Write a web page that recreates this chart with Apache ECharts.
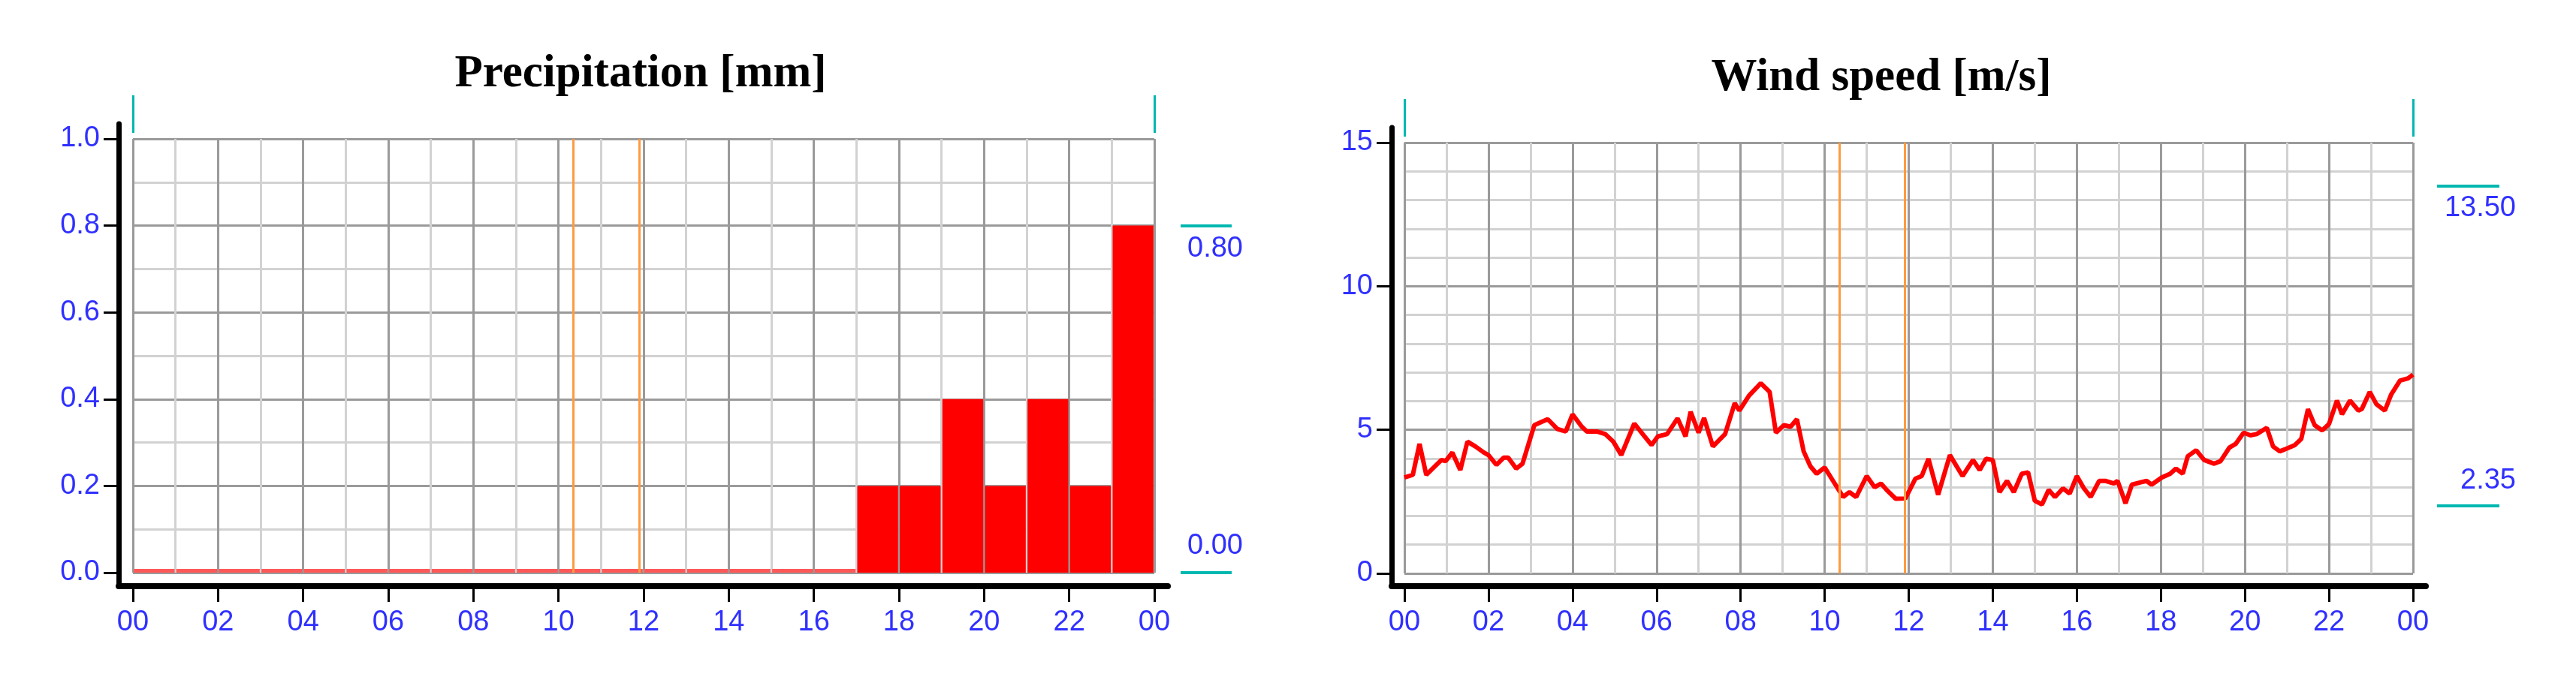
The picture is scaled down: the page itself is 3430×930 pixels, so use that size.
<!DOCTYPE html>
<html>
<head>
<meta charset="utf-8">
<title>Precipitation and wind speed</title>
<script src="https://cdn.jsdelivr.net/npm/echarts@6/dist/echarts.min.js"></script>
<style>
  html, body { margin: 0; padding: 0; background: #fff; }
  #chart { width: 3430px; height: 930px; }
</style>
</head>
<body>
<div id="chart"></div>
<script>
// hourly precipitation, hour start 00..23
const precipHour = [0, 1, 2, 3, 4, 5, 6, 7, 8, 9, 10, 11, 12, 13, 14, 15, 16, 17, 18, 19, 20, 21, 22, 23]
const precipValue = [0, 0, 0, 0, 0, 0, 0, 0, 0, 0, 0, 0, 0, 0, 0, 0, 0, 0.2, 0.2, 0.4, 0.2, 0.4, 0.2, 0.8]
const precipMarks = [0.80, 0.00]

// wind speed samples (hour of day, m/s)
const windHour = [
  0, 0.2, 0.36, 0.52, 0.67, 0.88, 0.98, 1.14, 1.33, 1.5, 1.69, 1.89, 2.0, 2.19, 2.36, 2.47, 2.66, 2.81,
  3.09, 3.41, 3.64, 3.84, 4.0, 4.22, 4.34, 4.58, 4.78, 4.97, 5.16, 5.47, 5.67, 5.88, 6.03, 6.25, 6.5, 6.69,
  6.81, 7.0, 7.13, 7.34, 7.63, 7.86, 7.97, 8.2, 8.48, 8.69, 8.84, 9.03, 9.19, 9.34, 9.5, 9.66, 9.81, 10.0,
  10.2, 10.44, 10.59, 10.75, 11.0, 11.19, 11.34, 11.5, 11.69, 11.92, 12.16, 12.31, 12.47, 12.7, 12.98, 13.28,
  13.53, 13.69, 13.84, 14.0, 14.16, 14.34, 14.5, 14.69, 14.84, 15.0, 15.17, 15.33, 15.48, 15.67, 15.83, 16.0,
  16.17, 16.33, 16.53, 16.69, 16.88, 16.97, 17.16, 17.31, 17.52, 17.66, 17.78, 18.02, 18.22, 18.36, 18.52, 18.64,
  18.84, 19.03, 19.27, 19.42, 19.63, 19.78, 19.97, 20.13, 20.28, 20.52, 20.67, 20.83, 20.98, 21.19, 21.34, 21.5,
  21.66, 21.84, 22.0, 22.19, 22.31, 22.5, 22.7, 22.78, 22.97, 23.13, 23.33, 23.48, 23.69, 23.88, 24.0
]
const windSpeed = [
  3.34, 3.43, 4.51, 3.43, 3.65, 3.95, 3.91, 4.21, 3.6, 4.59, 4.42, 4.21, 4.12, 3.78, 4.03, 4.03, 3.65, 3.82,
  5.16, 5.37, 5.03, 4.94, 5.54, 5.11, 4.94, 4.94, 4.85, 4.59, 4.12, 5.22, 4.85, 4.47, 4.77, 4.85, 5.4, 4.77,
  5.63, 4.9, 5.41, 4.42, 4.85, 5.93, 5.67, 6.19, 6.62, 6.32, 4.9, 5.16, 5.11, 5.37, 4.25, 3.73, 3.47, 3.69,
  3.22, 2.66, 2.83, 2.66, 3.39, 3.0, 3.13, 2.87, 2.6, 2.61, 3.3, 3.39, 3.99, 2.74, 4.12, 3.39,
  3.95, 3.6, 3.99, 3.95, 2.83, 3.22, 2.83, 3.47, 3.52, 2.53, 2.4, 2.91, 2.66, 2.96, 2.78, 3.39,
  2.96, 2.66, 3.22, 3.22, 3.13, 3.22, 2.44, 3.09, 3.17, 3.22, 3.09, 3.34, 3.47, 3.65, 3.47, 4.08,
  4.29, 3.95, 3.82, 3.91, 4.38, 4.51, 4.9, 4.81, 4.85, 5.07, 4.42, 4.25, 4.34, 4.47, 4.68, 5.72,
  5.16, 4.98, 5.2, 6.02, 5.54, 6.02, 5.67, 5.72, 6.32, 5.89, 5.67, 6.23, 6.71, 6.79, 6.92
]
const windMarks = [13.50, 2.35]

// the two orange time markers
const markerHours = [10.35, 11.9]

const blue = '#3030ff'
const cyan = '#00b8b0'
const labelFont = { color: blue, fontFamily: 'Liberation Sans', fontSize: 38 }
const majorLine = { color: '#9a9a9a', width: 3 }
const minorLine = { color: '#d2d2d2', width: 3 }

function hourLabel(v) {
  return String(v % 24).padStart(2, '0')
}

// plot axis (no line, ticks and labels pushed out to the frame)
function hourAxis(grid, offset) {
  return {
    type: 'value', gridIndex: grid, position: 'bottom', min: 0, max: 24, interval: 2, offset: offset,
    axisLine: { show: false, onZero: false },
    axisTick: { show: true, length: 21, lineStyle: { color: '#000', width: 3 } },
    axisLabel: Object.assign({ margin: 30, formatter: hourLabel, showMinLabel: true, showMaxLabel: true }, labelFont),
    minorTick: { show: false, splitNumber: 2 },
    splitLine: { show: true, lineStyle: majorLine },
    minorSplitLine: { show: true, lineStyle: minorLine }
  }
}

function frameX(grid) {
  return {
    type: 'value', gridIndex: grid, min: 0, max: 1,
    axisLine: { show: true, onZero: false, lineStyle: { color: '#000', width: 8 } },
    axisTick: { show: false }, axisLabel: { show: false }, splitLine: { show: false }
  }
}

function frameY(grid) {
  return {
    type: 'value', gridIndex: grid, min: 0, max: 1,
    axisLine: { show: true, onZero: false, lineStyle: { color: '#000', width: 7 } },
    axisTick: { show: false }, axisLabel: { show: false }, splitLine: { show: false }
  }
}

function hiddenX(grid) {
  return { type: 'value', gridIndex: grid, min: 0, max: 24, show: false }
}

function cyanTop(grid) {
  return {
    type: 'value', gridIndex: grid, position: 'top', min: 0, max: 24, interval: 24, offset: 8,
    axisLine: { show: false, onZero: false },
    axisTick: { show: true, length: 50, lineStyle: { color: cyan, width: 3 } },
    axisLabel: { show: false }, splitLine: { show: false }
  }
}

// cyan max/min marker on the right side
function cyanMark(grid, min, max, value, offset, len, margin, below, pad) {
  return {
    type: 'value', gridIndex: grid, position: 'right', min: min, max: max, offset: offset,
    axisLine: { show: false, onZero: false },
    axisTick: { show: true, customValues: [value], length: len, lineStyle: { color: cyan, width: 4 } },
    axisLabel: Object.assign({
      customValues: [value], margin: margin, align: 'right',
      verticalAlign: below ? 'top' : 'bottom',
      padding: below ? [pad, 0, 0, 0] : [0, 0, pad, 0],
      formatter: v => v.toFixed(2)
    }, labelFont),
    splitLine: { show: false }
  }
}

const chart = echarts.init(document.getElementById('chart'))

const leftPlot = { left: 177, top: 185, width: 1360, height: 578 }
const rightPlot = { left: 1870, top: 190, width: 1343, height: 574 }

chart.setOption({
  backgroundColor: '#fff',
  animation: false,
  title: [{
    text: 'Precipitation [mm]', left: 853, top: 69, textAlign: 'center', padding: 0,
    textStyle: { fontFamily: 'Liberation Serif', fontWeight: 'bold', fontSize: 61, color: '#000' }
  }, {
    text: 'Wind speed [m/s]', left: 2505, top: 74, textAlign: 'center', padding: 0,
    textStyle: { fontFamily: 'Liberation Serif', fontWeight: 'bold', fontSize: 61, color: '#000' }
  }],
  grid: [
    leftPlot,
    { left: 158, top: 165, width: 1397, height: 616 },
    rightPlot,
    { left: 1853, top: 170, width: 1377, height: 611 },
    leftPlot,
    rightPlot
  ],
  xAxis: [
    hourAxis(0, 18),
    frameX(1),
    cyanTop(0),
    hourAxis(2, 17),
    frameX(3),
    cyanTop(2),
    hiddenX(4),
    hiddenX(5)
  ],
  yAxis: [
    {
      type: 'value', gridIndex: 0, position: 'left', min: 0, max: 1, interval: 0.2, offset: 19,
      axisLine: { show: false, onZero: false },
      axisTick: { show: true, length: 20, lineStyle: { color: '#000', width: 3 } },
      axisLabel: Object.assign({ margin: 25, formatter: v => v.toFixed(1) }, labelFont),
      minorTick: { show: false, splitNumber: 2 },
      splitLine: { show: true, lineStyle: majorLine },
      minorSplitLine: { show: true, lineStyle: minorLine }
    },
    frameY(1),
    cyanMark(0, 0, 1, precipMarks[0], 35, 68, 83, true, 12),
    cyanMark(4, 0, 1, precipMarks[1], 35, 68, 83, false, 16),
    {
      type: 'value', gridIndex: 2, position: 'left', min: 0, max: 15, interval: 5, offset: 17,
      axisLine: { show: false, onZero: false },
      axisTick: { show: true, length: 20, lineStyle: { color: '#000', width: 3 } },
      axisLabel: Object.assign({ margin: 25 }, labelFont),
      minorTick: { show: false, splitNumber: 5 },
      splitLine: { show: true, lineStyle: majorLine },
      minorSplitLine: { show: true, lineStyle: minorLine }
    },
    frameY(3),
    cyanMark(2, 0, 15, windMarks[0], 32, 83, 105, true, 11),
    cyanMark(5, 0, 15, windMarks[1], 32, 83, 105, false, 15)
  ],
  series: [{
    name: 'Precipitation',
    type: 'bar',
    xAxisIndex: 0,
    yAxisIndex: 0,
    barWidth: '96%',
    barMinHeight: 5,
    itemStyle: {
      color: p => p.value[1] === 0 ? '#ff5858' : '#ff0000'
    },
    markLine: {
      silent: true, symbol: 'none', label: { show: false },
      lineStyle: { color: '#ff9a40', width: 3, type: 'solid' },
      data: markerHours.map(h => ({ xAxis: h }))
    },
    data: precipHour.map((h, i) => [h + 0.5, precipValue[i]])
  }, {
    name: 'Wind speed',
    type: 'line',
    xAxisIndex: 3,
    yAxisIndex: 4,
    showSymbol: false,
    lineStyle: { color: '#ff0000', width: 6 },
    markLine: {
      silent: true, symbol: 'none', label: { show: false },
      lineStyle: { color: '#ff9a40', width: 3, type: 'solid' },
      data: markerHours.map(h => ({ xAxis: h }))
    },
    data: windHour.map((h, i) => [h, windSpeed[i]])
  }]
})
</script>
</body>
</html>
